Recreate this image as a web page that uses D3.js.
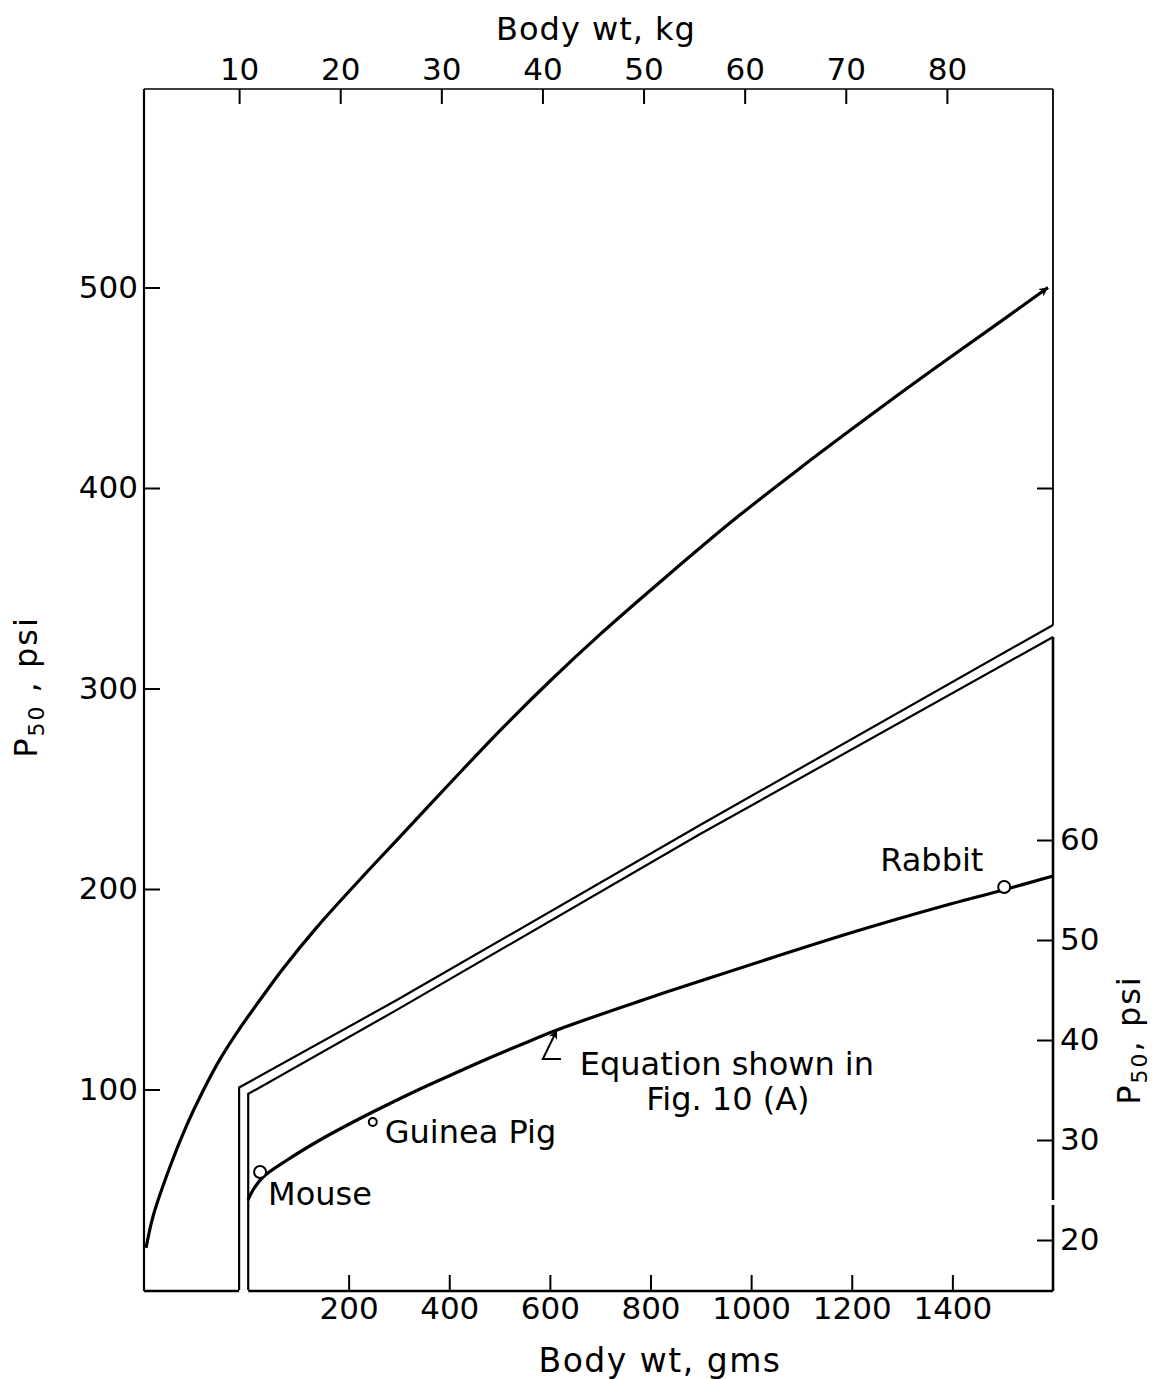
<!DOCTYPE html>
<html><head><meta charset="utf-8">
<script src="https://cdn.jsdelivr.net/npm/d3@7"></script>
<style>
body{margin:0;background:#fff}
svg{display:block;background:#fff}
text{font-family:"DejaVu Sans",sans-serif;fill:#000}
</style>
</head><body>
<svg id="c" width="1154" height="1379"></svg>
<script>
// ---- tick labels ----
const kgTicks = [10,20,30,40,50,60,70,80];
const gmsTicks = [200,400,600,800,1000,1200,1400];
const psiLeftTicks = [100,200,300,400,500];
const psiRightTicks = [20,30,40,50,60];

// ---- upper curve: body wt (kg) vs P50 (psi, left axis) ----
const upperKg  = [0.8,1.5,3.2,4.8,6.3,8.1,10,12.4,14.3,17.7,22,25.9,30.9,35.8,40.8,45.7,52.3,58.9,65.5,72.1,78.6,85.3,90];
const upperPsi = [21,37,62,82,98,115,130,147,160,181,205,226,253,279,304,327,356,384,410,435,459,483,500];

// ---- lower curve: body wt (gms) vs P50 (psi, right axis) ----
const lowerGms = [0,10,30,78,143,209,276,342,408,475,541,614,785,899,1197,1396,1501,1600];
const lowerPsi = [24.0,25.0,26.3,28.0,30.0,31.8,33.5,35.1,36.6,38.1,39.5,41.0,44.0,45.9,50.7,53.6,55.0,56.4];

// ---- animal points (gms, psi right) ----
const animals   = ["Mouse","Guinea Pig","Rabbit"];
const animalGms = [24,248,1503];
const animalPsi = [26.8,31.8,55.3];

// ---- scale-break double line (kg, psi left) ----
const breakOuterKg  = [10,10,25.6,55.6,90.5];
const breakOuterPsi = [0,101,144.6,231.9,331.7];
const breakInnerKg  = [10.9,10.9,25.6,55.6,90.5];
const breakInnerPsi = [0,97.8,139.7,227.4,325.7];

// ---- annotation leader (gms, psi right) ----
const leaderGms = [622,586,614];
const leaderPsi = [38.1,38.1,41.0];

const svg = d3.select("#c");
const L = 144, R = 1053, T = 89, B = 1291;

const xKg = d3.scaleLinear().domain([0,90]).range([138,1048]);
const yL  = d3.scaleLinear().domain([0,600]).range([1290,87]);
const xG  = d3.scaleLinear().domain([0,1600]).range([248,1053]);
const yR  = d3.scaleLinear().domain([15,60]).range([1290,840]);

const defs = svg.append("defs");
defs.append("marker").attr("id","ah").attr("viewBox","0 0 10 10")
  .attr("refX",10).attr("refY",5).attr("markerWidth",13).attr("markerHeight",9)
  .attr("markerUnits","userSpaceOnUse").attr("orient","auto")
  .append("path").attr("d","M0,0L10,5L0,10L3,5Z").attr("fill","#000");

// ---- frame ----
const line = d3.line();
const frame = svg.append("g").attr("fill","none").attr("stroke","#000");
frame.append("path").attr("d", line([[L,T],[L,B]])).attr("stroke-width",2.2);
frame.append("path").attr("d", line([[L,T],[R,T]])).attr("stroke-width",1.6);
frame.append("path").attr("d", line([[R,T],[R,yL(breakOuterPsi[4])]])).attr("stroke-width",1.8);
frame.append("path").attr("d", line([[R,yL(breakInnerPsi[4])],[R,yR(24)]])).attr("stroke-width",2.6);
frame.append("path").attr("d", line([[R,yR(23.5)],[R,B]])).attr("stroke-width",2.6);
frame.append("path").attr("d", line([[L,B],[xKg(breakOuterKg[0]),B]])).attr("stroke-width",2.4);
frame.append("path").attr("d", line([[xKg(breakInnerKg[0]),B],[R,B]])).attr("stroke-width",2.4);

// ---- break double line ----
const brk = d3.line().x(d=>xKg(d[0])).y(d=>yL(d[1]));
svg.append("path").attr("d", brk(breakOuterKg.map((k,i)=>[k,breakOuterPsi[i]])))
  .attr("fill","none").attr("stroke","#000").attr("stroke-width",2.2);
svg.append("path").attr("d", brk(breakInnerKg.map((k,i)=>[k,breakInnerPsi[i]])))
  .attr("fill","none").attr("stroke","#000").attr("stroke-width",2.2);

// ---- axes ----
const fmt = d3.format("d");
function styleAxis(g){
  g.select(".domain").remove();
  g.selectAll(".tick line").attr("stroke","#000").attr("stroke-width",2);
  g.selectAll(".tick text").attr("font-size",31).attr("font-family","DejaVu Sans, sans-serif").attr("fill","#000");
}
svg.append("g").attr("transform",`translate(0,${T})`)
  .call(d3.axisTop(xKg).tickValues(kgTicks).tickFormat(fmt).tickSize(-15).tickPadding(9))
  .call(styleAxis);
svg.append("g").attr("transform",`translate(${L},0)`)
  .call(d3.axisLeft(yL).tickValues(psiLeftTicks).tickFormat(fmt).tickSize(-16).tickPadding(6))
  .call(styleAxis);
svg.append("g").attr("transform",`translate(${R},0)`)
  .call(d3.axisRight(yL).tickValues([400]).tickSize(-16).tickFormat(""))
  .call(styleAxis);
svg.append("g").attr("transform",`translate(0,${B})`)
  .call(d3.axisBottom(xG).tickValues(gmsTicks).tickFormat(fmt).tickSize(-16).tickPadding(6))
  .call(styleAxis);
svg.append("g").attr("transform",`translate(${R},0)`)
  .call(d3.axisRight(yR).tickValues(psiRightTicks).tickFormat(fmt).tickSize(-16).tickPadding(7))
  .call(styleAxis);

// ---- curves ----
const upLine = d3.line().x(d=>xKg(d[0])).y(d=>yL(d[1])).curve(d3.curveCatmullRom.alpha(0.5));
svg.append("path").attr("d", upLine(upperKg.map((k,i)=>[k,upperPsi[i]])))
  .attr("fill","none").attr("stroke","#000").attr("stroke-width",3.2)
  .attr("marker-end","url(#ah)");

const loLine = d3.line().x(d=>xG(d[0])).y(d=>yR(d[1])).curve(d3.curveCatmullRom.alpha(0.5));
svg.append("path").attr("d", loLine(lowerGms.map((g,i)=>[g,lowerPsi[i]])))
  .attr("fill","none").attr("stroke","#000").attr("stroke-width",3.2);

// ---- animal points ----
const radii = [6,4,6];
const offs = [[8,33],[12,21],[-124,-16]];
animals.forEach((a,i)=>{
  const cx = xG(animalGms[i]), cy = yR(animalPsi[i]);
  svg.append("circle").attr("cx",cx).attr("cy",cy).attr("r",radii[i])
    .attr("fill","#fff").attr("stroke","#000").attr("stroke-width",2);
  svg.append("text").attr("x",cx+offs[i][0]).attr("y",cy+offs[i][1])
    .attr("font-size",32).text(a);
});

// ---- leader arrow + annotation ----
const ldr = d3.line().x(d=>xG(d[0])).y(d=>yR(d[1]));
svg.append("path").attr("d", ldr(leaderGms.map((g,i)=>[g,leaderPsi[i]])))
  .attr("fill","none").attr("stroke","#000").attr("stroke-width",2)
  .attr("marker-end","url(#ah)");
const tipX = xG(leaderGms[2]), tipY = yR(leaderPsi[2]);
svg.append("text").attr("x",tipX+170).attr("y",tipY+45).attr("text-anchor","middle")
  .attr("font-size",32).text("Equation shown in");
svg.append("text").attr("x",tipX+171).attr("y",tipY+80).attr("text-anchor","middle")
  .attr("font-size",32).text("Fig. 10 (A)");

// ---- axis titles ----
svg.append("text").attr("x",596).attr("y",40).attr("text-anchor","middle")
  .attr("font-size",32).attr("letter-spacing",1).text("Body wt, kg");
svg.append("text").attr("x",660).attr("y",1372).attr("text-anchor","middle")
  .attr("font-size",33).attr("letter-spacing",1.5).text("Body wt, gms");

function pTitle(x,y,rest){
  const t = svg.append("text").attr("transform",`translate(${x},${y}) rotate(-90)`)
    .attr("text-anchor","middle").attr("font-size",32).attr("letter-spacing",2);
  t.append("tspan").text("P");
  t.append("tspan").attr("font-size",22).attr("dy",7).text("50");
  t.append("tspan").attr("dy",-7).text(rest);
}
pTitle(37,687," , psi");
pTitle(1140,1040,", psi");
</script>
</body></html>
